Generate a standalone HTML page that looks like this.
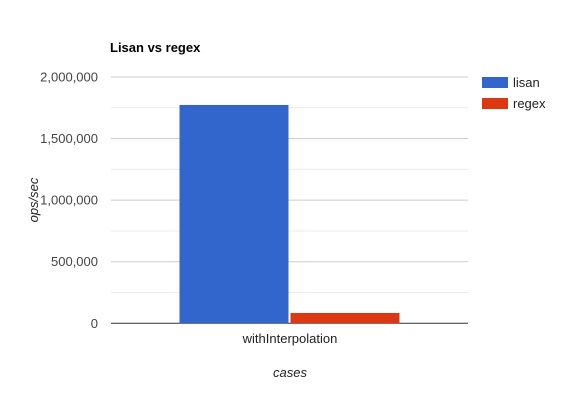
<!DOCTYPE html>
<html><head><meta charset="utf-8"><style>
body{margin:0;background:#fff;}
svg{display:block;font-family:"Liberation Sans",Arial,sans-serif;}
</style></head><body>
<svg id="chart" width="580" height="400">
<text x="110" y="52" font-size="13" font-weight="bold" fill="#000">Lisan vs regex</text>
<g id="grid"></g><g id="bars"></g><g id="yticks"></g>
<text x="290" y="343" font-size="13" fill="#222" text-anchor="middle" id="xcat">withInterpolation</text>
<text x="290" y="377" font-size="13" font-style="italic" fill="#222" text-anchor="middle">cases</text>
<text transform="translate(38,200) rotate(-90)" font-size="13" font-style="italic" fill="#222" text-anchor="middle">ops/sec</text>
<g id="legend"></g>
</svg>
<script>
const categories = ["withInterpolation"];
const seriesNames = ["lisan", "regex"];
const lisanValues = [1773000];
const regexValues = [84000];
const yTicks = [0, 500000, 1000000, 1500000, 2000000];
const yTickLabels = ["0", "500,000", "1,000,000", "1,500,000", "2,000,000"];
const colors = ["#3366cc", "#dc3912"];
const NS = "http://www.w3.org/2000/svg";
const L = 111, R = 468, B = 323.3, T = 77, yMax = 2000000;
const y = v => B - v / yMax * (B - T);
function mk(tag, attrs, parent){const e=document.createElementNS(NS,tag);for(const k in attrs)e.setAttribute(k,attrs[k]);document.getElementById(parent).appendChild(e);return e;}
for (let i = 0; i < yTicks.length - 1; i++) {
  const mv = (yTicks[i] + yTicks[i+1]) / 2;
  const m = mk("line",{x1:L,x2:R,y1:y(mv),y2:y(mv),stroke:"#ebebeb","stroke-width":1},"grid");
  
  
}
yTicks.forEach((t, i) => {
  if (t !== 0) {
    const g = mk("line",{x1:L,x2:R,y1:y(t),y2:y(t),stroke:"#cccccc","stroke-width":1},"grid");
    
    
  }
  const tx = mk("text",{x:98,y:y(t)+4.5,"font-size":13,fill:"#444","text-anchor":"end"},"yticks");
  tx.textContent = yTickLabels[i];
  
  
});
const groupW = R - L, n = categories.length;
categories.forEach((c, ci) => {
  const cx = L + groupW * (ci + 0.5) / n;
  const bw = 109;
  [lisanValues, regexValues].forEach((vals, si) => {
    const x0 = cx - bw - 1 + si * (bw + 2);
    const r = mk("rect",{x:x0,y:y(vals[ci]),width:bw,height:B - y(vals[ci]),fill:colors[si]},"bars");
    
    
  });
});
const base = mk("line",{x1:L,x2:R,y1:B,y2:B,stroke:"#333","stroke-width":1},"grid");


seriesNames.forEach((s, i) => {
  const sw = mk("rect",{x:482,y:77+i*21,width:26,height:11,fill:colors[i]},"legend");
  
  
  const t = mk("text",{x:513,y:87+i*21,"font-size":13,fill:"#222"},"legend");
  t.textContent = s;
  
  
});
</script>
</body></html>
